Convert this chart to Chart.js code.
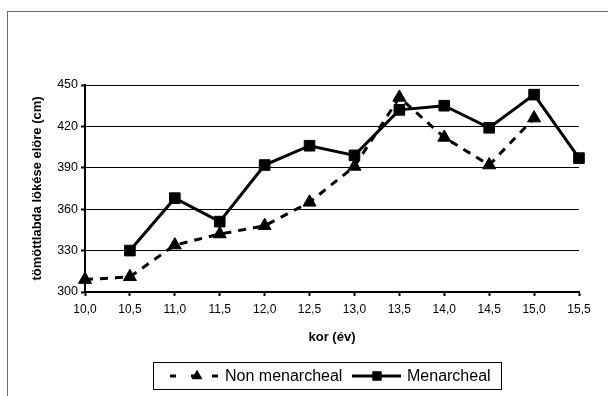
<!DOCTYPE html>
<html>
<head>
<meta charset="utf-8">
<script src="https://cdn.jsdelivr.net/npm/chart.js@4/dist/chart.umd.min.js"></script>
<style>
  html, body { margin: 0; padding: 0; background: #fff; }
  #wrap { width: 608px; height: 396px; }
</style>
</head>
<body>
<div id="wrap"><canvas id="chart" width="608" height="396"></canvas></div>
<script>
// age groups on the x axis
const ages = ["10,0", "10,5", "11,0", "11,5", "12,0", "12,5", "13,0", "13,5", "14,0", "14,5", "15,0", "15,5"];

// medicine ball throw distance (cm)
const nonMenarcheal = [309, 311, 334, 342, 348, 365, 391, 441, 412, 392, 426, null];
const menarcheal = [null, 330, 368, 351, 392, 406, 399, 432, 435, 419, 443, 397];

const yMin = 300;
const yMax = 450;
const yStep = 30;

const seriesNames = ["Non menarcheal", "Menarcheal"];

const font = "'Liberation Sans', Arial, sans-serif";

// excel-style legend box with line + marker samples, plus the outer frame
const frameAndLegend = {
  id: "frameAndLegend",
  afterDraw(chart) {
    const ctx = chart.ctx;
    ctx.save();

    ctx.strokeStyle = "#6a6a6a";
    ctx.lineWidth = 1;
    ctx.strokeRect(7.5, 11.5, 700, 500);

    ctx.strokeStyle = "#000";
    ctx.strokeRect(153.5, 362.5, 348, 27);

    const cy = 376;
    const samples = [
      { x1: 170, x2: 218, mx: 197, tx: 225, dash: [6, 15], r: 5.5 },
      { x1: 352, x2: 401, mx: 377, tx: 407, dash: [], r: 6 },
    ];

    chart.data.datasets.forEach((ds, i) => {
      const s = samples[i];
      ctx.save();
      ctx.strokeStyle = ds.borderColor;
      ctx.lineWidth = ds.borderWidth;
      ctx.setLineDash(s.dash);
      ctx.beginPath();
      ctx.moveTo(s.x1, cy);
      ctx.lineTo(s.x2, cy);
      ctx.stroke();
      ctx.restore();

      ctx.fillStyle = ds.pointBackgroundColor;
      ctx.strokeStyle = ds.pointBorderColor;
      ctx.lineWidth = 1;
      Chart.helpers.drawPoint(ctx, {
        pointStyle: ds.pointStyle,
        radius: s.r,
        rotation: 0,
        borderWidth: 1,
      }, s.mx, cy);

      ctx.fillStyle = "#000";
      ctx.font = "16px " + font;
      ctx.textBaseline = "middle";
      ctx.textAlign = "left";
      ctx.fillText(ds.label, s.tx, cy + 1);
    });

    ctx.restore();
  },
};

const ctx = document.getElementById("chart");

new Chart(ctx, {
  type: "line",
  data: {
    labels: ages,
    datasets: [
      {
        label: seriesNames[0],
        data: nonMenarcheal,
        borderColor: "#000",
        backgroundColor: "#000",
        borderWidth: 3,
        borderDash: [8, 7],
        pointStyle: "triangle",
        pointRadius: 7.5,
        pointBackgroundColor: "#000",
        pointBorderColor: "#000",
        pointBorderWidth: 1,
        tension: 0,
        spanGaps: false,
      },
      {
        label: seriesNames[1],
        data: menarcheal,
        borderColor: "#000",
        backgroundColor: "#000",
        borderWidth: 3,
        pointStyle: "rect",
        pointRadius: 7.5,
        pointBackgroundColor: "#000",
        pointBorderColor: "#000",
        pointBorderWidth: 1,
        tension: 0,
        spanGaps: false,
      },
    ],
  },
  options: {
    responsive: false,
    animation: false,
    layout: {
      padding: { left: 30, right: 29, top: 85, bottom: 50 },
    },
    plugins: {
      legend: { display: false },
      tooltip: { enabled: false },
    },
    scales: {
      x: {
        offset: false,
        afterFit(scale) {
          scale.height = 54;
        },
        grid: {
          drawOnChartArea: false,
          drawTicks: true,
          tickLength: 4,
          tickColor: "#000",
          tickWidth: 2,
        },
        border: { color: "#000", width: 2 },
        ticks: {
          color: "#000",
          font: { family: font, size: 12 },
          padding: 6,
          maxRotation: 0,
          autoSkip: false,
        },
        title: {
          display: true,
          text: "kor (év)",
          color: "#000",
          font: { family: font, size: 13, weight: "bold" },
          padding: { top: 0, bottom: 1 },
        },
      },
      y: {
        min: yMin,
        max: yMax,
        afterFit(scale) {
          scale.width = 55;
        },
        grid: {
          color: "#000",
          lineWidth: 1,
          drawTicks: true,
          tickLength: 4,
          tickColor: "#000",
          tickWidth: 2,
        },
        border: { color: "#000", width: 2 },
        ticks: {
          stepSize: yStep,
          color: "#000",
          font: { family: font, size: 12.5 },
          padding: 3,
        },
        title: {
          display: true,
          text: "tömöttlabda lökése elöre (cm)",
          color: "#000",
          font: { family: font, size: 13, weight: "bold" },
          padding: { top: 0, bottom: 0 },
        },
      },
    },
  },
  plugins: [frameAndLegend],
});
</script>
</body>
</html>
